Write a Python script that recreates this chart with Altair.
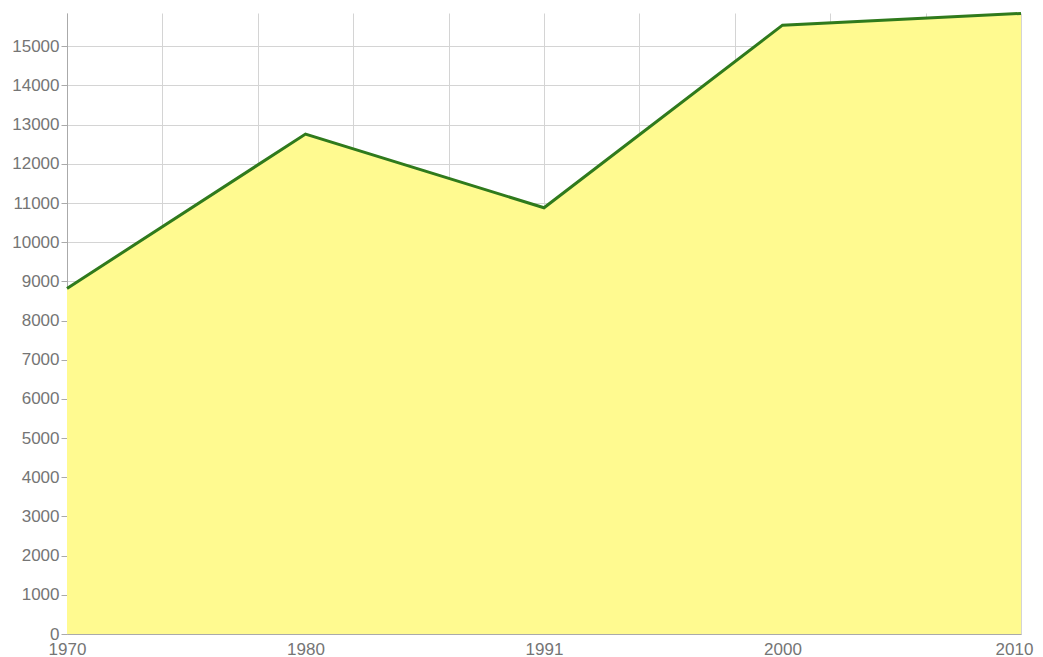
import json
import altair as alt
import pandas as pd

years = ["1970", "1980", "1991", "2000", "2010"]
values = [8820, 12760, 10880, 15540, 15840]
grid_steps = [0, 0.4, 0.8, 1.2, 1.6, 2, 2.4, 2.8, 3.2, 3.6, 4]
y_ticks = list(range(0, 16000, 1000))

df = pd.DataFrame({"idx": list(range(len(years))), "year": years, "value": values})

label_expr = json.dumps(years) + "[round(datum.value)]"
last_idx = len(years) - 1

xscale = alt.Scale(domain=[0, last_idx], nice=False, zero=False)
yscale = alt.Scale(domain=[0, 15850], nice=False)

font = "Liberation Sans"
lab_col = "#757575"

area = alt.Chart(df).mark_area(color="#fffa90", opacity=1).encode(
    x=alt.X("idx:Q", scale=xscale,
            axis=alt.Axis(values=grid_steps, labels=False, ticks=False, title=None,
                          grid=True, gridColor="#d4d4d4", gridWidth=1,
                          domain=True, domainColor="#aaaaaa", orient="bottom")),
    y=alt.Y("value:Q", scale=yscale,
            axis=alt.Axis(values=y_ticks, format="d", title=None, grid=True,
                          gridColor="#d4d4d4", gridWidth=1, domainColor="#aaaaaa",
                          tickColor="#aaaaaa", tickSize=6, labelPadding=2,
                          labelFont=font, labelFontSize=17, labelColor=lab_col)),
)

line = alt.Chart(df).mark_line(color="#2f7a1c", strokeWidth=3).encode(
    x=alt.X("idx:Q", scale=xscale,
            axis=alt.Axis(values=list(range(len(years))), labelExpr=label_expr,
                          ticks=False, grid=False, domain=False, title=None,
                          labelFont=font, labelFontSize=17, labelColor=lab_col,
                          labelPadding=7, orient="bottom", labelFlush=False,
                          labelOverlap=False,
                          labelOffset={"condition": {"test": f"datum.value == {last_idx}",
                                                     "value": -7},
                                       "value": 0})),
    y=alt.Y("value:Q", scale=yscale),
)

chart = alt.layer(area, line).resolve_axis(x="independent").properties(
    width=954, height=621,
    autosize=alt.AutoSizeParams(type="none"),
    padding={"left": 59, "top": 5, "right": 14, "bottom": 23},
).configure_view(stroke=None)

chart.save("out.html", embed_options={"renderer": "svg", "actions": False})
